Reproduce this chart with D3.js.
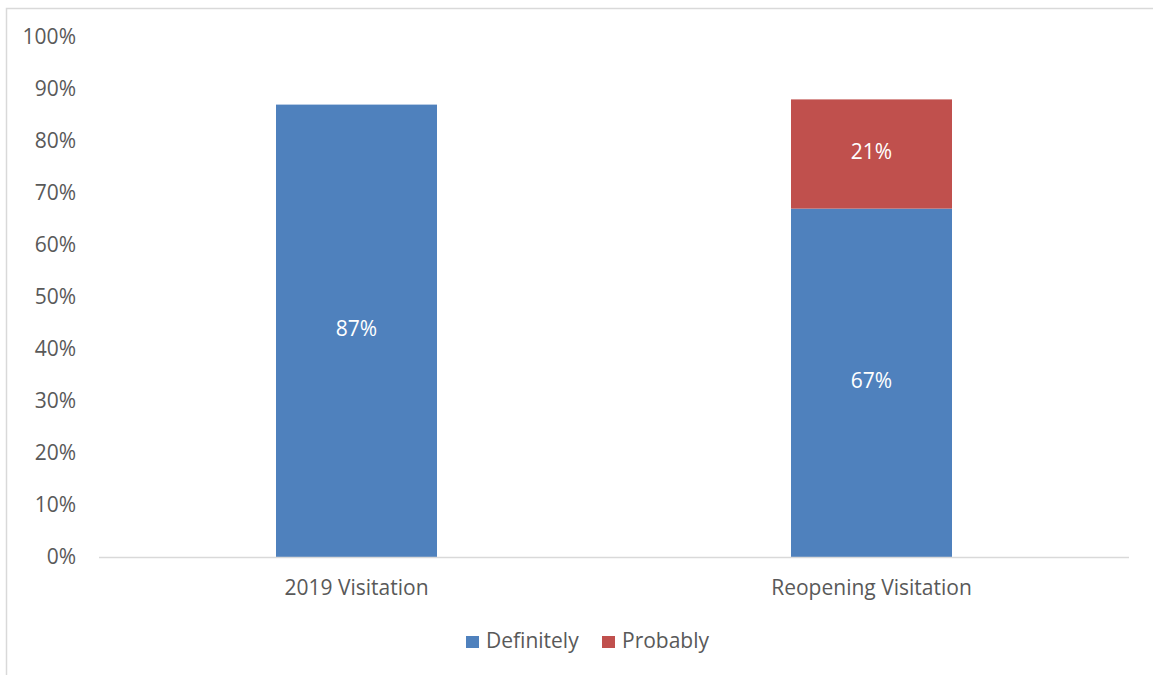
<!DOCTYPE html>
<html><head><meta charset="utf-8">
<script src="https://cdn.jsdelivr.net/npm/d3@7"></script>
<style>body{margin:0;background:#fff;} svg{display:block;}</style>
</head><body>
<svg id="c" width="1153" height="675"></svg>
<script>
const categories = ["2019 Visitation", "Reopening Visitation"];
const seriesNames = ["Definitely", "Probably"];
const definitely = [0.87, 0.67];
const probably = [0, 0.21];
const yTicks = [0,0.1,0.2,0.3,0.4,0.5,0.6,0.7,0.8,0.9,1.0];
const colors = ["#4F81BD", "#C0504D"];

const svg = d3.select("#c");
const font = "'Open Sans', sans-serif";
const fs = 21;
// chart border
svg.append("rect").attr("x",6.5).attr("y",8.5).attr("width",1160).attr("height",680)
  .attr("fill","#fff").attr("stroke","#D9D9D9").attr("stroke-width",1.5);

const x0 = 99, x1 = 1129, yTop = 37, yBot = 557;
const x = d3.scaleBand().domain(categories).range([x0,x1]).paddingInner(0.6874).paddingOuter(0.3437);
const y = d3.scaleLinear().domain([0,1]).range([yBot,yTop]);

const rows = categories.map((c,i)=>({cat:c, Definitely:definitely[i], Probably:probably[i]}));
const stack = d3.stack().keys(seriesNames)(rows);

// y tick labels
svg.append("g").selectAll("text").data(yTicks).join("text")
  .attr("x",76).attr("y",d=>y(d)).attr("dy","0.35em").attr("text-anchor","end")
  .attr("font-family",font).attr("font-size",fs).attr("fill","#595959")
  .text(d=>d3.format(".0%")(d));

// bars
stack.forEach((s,si)=>{
  svg.append("g").selectAll("rect").data(s.filter(d=>d[1]-d[0]>0)).join("rect")
    .attr("x",d=>x(d.data.cat)).attr("width",x.bandwidth())
    .attr("y",d=>y(d[1])).attr("height",d=>y(d[0])-y(d[1]))
    .attr("fill",colors[si]);
  svg.append("g").selectAll("text").data(s.filter(d=>d[1]-d[0]>0)).join("text")
    .attr("x",d=>x(d.data.cat)+x.bandwidth()/2).attr("y",d=>(y(d[0])+y(d[1]))/2 - 2)
    .attr("dy","0.35em").attr("text-anchor","middle")
    .attr("font-family",font).attr("font-size",fs).attr("fill","#fff")
    .text(d=>d3.format(".0%")(d[1]-d[0]));
});

// x axis line
svg.append("line").attr("x1",x0).attr("x2",x1).attr("y1",yBot+0.5).attr("y2",yBot+0.5)
  .attr("stroke","#D9D9D9").attr("stroke-width",1.5);

// category labels
svg.append("g").selectAll("text").data(categories).join("text")
  .attr("x",d=>x(d)+x.bandwidth()/2).attr("y",588).attr("dy","0.35em").attr("text-anchor","middle")
  .attr("font-family",font).attr("font-size",fs).attr("fill","#595959").text(d=>d);

// legend
const leg = [{name:seriesNames[0], c:colors[0], sx:466, tx:486},{name:seriesNames[1], c:colors[1], sx:602, tx:622}];
const lg = svg.append("g");
lg.selectAll("rect").data(leg).join("rect").attr("x",d=>d.sx).attr("y",636).attr("width",13).attr("height",12).attr("fill",d=>d.c);
lg.selectAll("text").data(leg).join("text").attr("x",d=>d.tx).attr("y",641).attr("dy","0.35em")
  .attr("font-family",font).attr("font-size",fs).attr("fill","#595959").text(d=>d.name);
</script>
</body></html>
